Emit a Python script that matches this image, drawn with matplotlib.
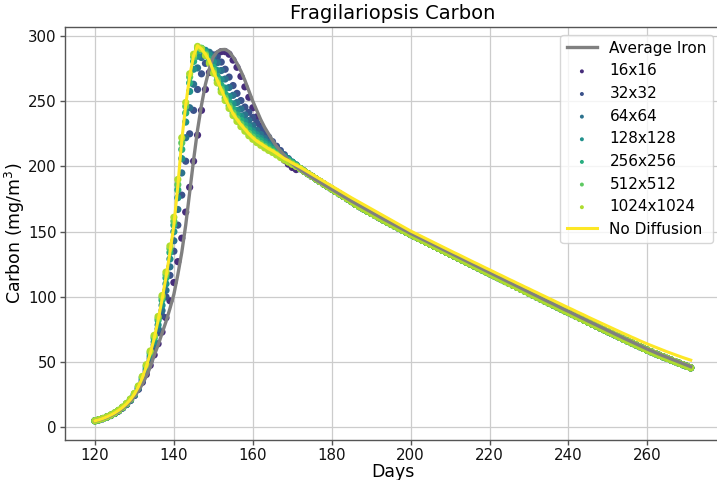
import numpy as np
import matplotlib
matplotlib.use("Agg")
import matplotlib.pyplot as plt

# ---------------- data ----------------
days = np.arange(120, 272)  # daily output, day 120 .. 271

# Days 120..171
iron_head = [5.0, 5.7, 6.6, 7.7, 9.0, 10.5, 12.3, 14.5, 17, 20, 23.5, 28, 33, 39, 46, 55, 63, 72, 81, 91,
             102, 117, 134, 155, 180, 205, 228, 247, 263, 275, 284, 288, 289.5, 289.7, 288, 284, 279, 273, 266, 258,
             250, 243, 236, 230, 225, 220, 215.5, 212, 208.5, 205, 202, 199.5]
nodiff_head = [5.0, 5.8, 6.8, 8.0, 9.4, 11.0, 13.0, 15.3, 18.0, 21.3, 25.5, 31, 38, 46.5, 56.5, 68, 82, 98, 115, 134,
               155, 185, 220, 247, 269, 285, 292.5, 290, 286, 281, 273, 266, 259, 252, 246, 240.5, 236, 232, 228.5, 225,
               222, 219.5, 217.5, 215.5, 213.5, 212, 210, 208, 206, 204.5, 202.5, 201]
r16_head = [5.0, 5.7, 6.6, 7.7, 9.0, 10.6, 12.5, 14.8, 17.5, 20.7, 24.5, 29.2, 34.5, 40.5, 47.5, 55.5, 64, 73, 84, 97,
            111, 127, 145, 165, 184, 204, 224, 243, 259, 272, 281, 286, 288, 288, 286, 281.5, 276, 269, 261, 253,
            245, 238, 231, 225, 220, 215.5, 211.5, 208, 204.8, 201.8, 199.2, 197.6]
r32_head = [5.0, 5.8, 6.7, 7.8, 9.1, 10.7, 12.6, 14.9, 17.5, 20.6, 24.4, 29.3, 35.3, 42.5, 51, 61, 72.5, 85.5, 100, 116.5,
            135, 155, 178, 204, 225, 243, 259, 271, 279, 284, 285.5, 284, 280, 274.5, 268.5, 262, 256, 250.5, 245.5, 241.5,
            237.5, 233.5, 229.5, 226, 222.5, 219, 215.5, 212.2, 209, 206, 203.2, 200.6]
r64_head = [5.0, 5.8, 6.7, 7.9, 9.2, 10.8, 12.7, 15.0, 17.7, 20.9, 24.8, 29.9, 36.2, 43.8, 52.8, 63.3, 75.5, 89.5, 105, 123,
            143, 167, 195, 222, 245, 263, 275.5, 283.5, 287.5, 287.5, 284.5, 279.5, 273.5, 267, 260.5, 254.5, 249, 244, 239.5, 235.2,
            231.2, 227.7, 224.5, 221.5, 218.6, 215.8, 213.1, 210.5, 208, 205.6, 203.2, 201]
r128_head = [5.0, 5.8, 6.7, 7.9, 9.2, 10.8, 12.8, 15.1, 17.8, 21.1, 25.1, 30.4, 37.0, 45.0, 54.5, 65.5, 78.5, 93.5, 110, 129,
             150, 176, 206, 234, 257.5, 274.5, 284.5, 289, 289, 285.5, 280, 273.5, 266.5, 260, 253.5, 248, 243, 238.5, 234.5, 230.7,
             227.3, 224.3, 221.5, 219, 216.6, 214.3, 212, 209.8, 207.6, 205.4, 203.3, 201.2]
r256_head = [5.0, 5.8, 6.7, 7.9, 9.3, 10.9, 12.9, 15.2, 18.0, 21.4, 25.5, 31.0, 38.0, 46.5, 56.5, 68.2, 82, 97.5, 114.5, 134,
             155, 182, 213, 241, 264, 280.5, 289, 290.5, 287.5, 282.5, 276, 269, 262, 255.5, 249.5, 244, 239.5, 235.3, 231.5, 228,
             225, 222.2, 219.6, 217.2, 215, 213, 210.9, 208.8, 206.8, 204.8, 202.8, 200.8]
r512_head = [5.0, 5.8, 6.8, 8.0, 9.4, 11.0, 13.0, 15.4, 18.2, 21.6, 25.8, 31.4, 38.5, 47.3, 57.6, 69.5, 83.5, 99.5, 117, 137,
             158, 186, 218, 246, 268.5, 284, 291, 290.5, 286, 280.5, 273.5, 266, 259, 252.5, 246.5, 241, 236.5, 232.5, 228.8, 225.3,
             222.5, 219.8, 217.5, 215.3, 213.2, 211.4, 209.5, 207.5, 205.6, 203.8, 202, 200.3]
r1024_head = [5.0, 5.8, 6.8, 8.0, 9.4, 11.1, 13.1, 15.5, 18.3, 21.7, 26, 31.7, 39, 48, 58.5, 70.5, 85, 101, 119, 139,
              161, 190, 222, 249, 271, 286, 292, 290, 285, 279, 271.5, 264, 257, 250.5, 244.5, 239, 234.5, 230.5, 227, 223.5,
              220.8, 218.3, 216.2, 214.2, 212.3, 210.7, 208.8, 206.8, 205, 203.3, 201.6, 200]

# Days 172..271
iron_tail = [197.5, 195.5, 193.5, 191.5, 189.7, 187.9, 186.1, 184.3, 182.5, 180.7, 178.9, 177.1, 175.3, 173.5,
             171.8, 170.1, 168.4, 166.7, 165.0, 163.3, 161.6, 159.9, 158.3, 156.7,
             155.1, 153.5, 151.9, 150.3, 148.7, 147.2, 145.7, 144.2, 142.7, 141.2,
             139.7, 138.2, 136.7, 135.2, 133.7, 132.2, 130.7, 129.2, 127.7, 126.2,
             124.7, 123.2, 121.7, 120.2, 118.7, 117.2, 115.7, 114.2, 112.7, 111.2,
             109.7, 108.2, 106.7, 105.2, 103.7, 102.2, 100.7, 99.2, 97.7, 96.2,
             94.8, 93.3, 91.8, 90.3, 88.9, 87.4, 85.9, 84.4, 83.0, 81.5,
             80.0, 78.6, 77.1, 75.7, 74.2, 72.8, 71.3, 69.9, 68.4, 67.0,
             65.6, 64.2, 62.8, 61.4, 60.0, 58.7, 57.4, 56.1, 54.9, 53.7,
             52.5, 51.3, 50.1, 48.9, 47.7, 46.5]
nodiff_tail = [199.4, 197.6, 195.8, 194.0, 192.2, 190.4, 188.6, 186.8, 185.0, 183.2, 181.4, 179.6, 177.8, 176.0,
               174.3, 172.6, 170.9, 169.2, 167.5, 165.8, 164.1, 162.4, 160.7, 159.0,
               157.3, 155.6, 153.9, 152.2, 150.5, 149.0, 147.5, 146.0, 144.5, 143.0,
               141.5, 140.0, 138.5, 137.0, 135.5, 134.0, 132.6, 131.1, 129.6, 128.1,
               126.6, 125.2, 123.7, 122.2, 120.8, 119.3, 117.8, 116.4, 114.9, 113.4,
               112.0, 110.5, 109.1, 107.6, 106.2, 104.7, 103.3, 101.8, 100.4, 98.9,
               97.5, 96.0, 94.6, 93.1, 91.7, 90.3, 88.8, 87.4, 86.0, 84.5,
               83.1, 81.7, 80.3, 78.9, 77.5, 76.1, 74.7, 73.3, 71.9, 70.6,
               69.2, 67.9, 66.5, 65.2, 63.9, 62.7, 61.5, 60.3, 59.1, 57.9,
               56.8, 55.7, 54.6, 53.5, 52.5, 51.5]
grid_tail = [198.4, 196.4, 194.4, 192.4, 190.4, 188.5, 186.5, 184.6, 182.7, 180.8, 178.9, 177.0, 175.1, 173.1,
             171.0, 169.2, 167.5, 165.8, 164.1, 162.4, 160.7, 159.0, 157.4, 155.8,
             154.2, 152.6, 151.0, 149.4, 147.8, 146.3, 144.8, 143.3, 141.8, 140.3,
             138.8, 137.3, 135.8, 134.3, 132.8, 131.3, 129.8, 128.3, 126.8, 125.3,
             123.8, 122.3, 120.8, 119.3, 117.8, 116.3, 114.8, 113.3, 111.8, 110.3,
             108.8, 107.3, 105.8, 104.3, 102.8, 101.3, 99.8, 98.3, 96.8, 95.3,
             93.9, 92.4, 90.9, 89.4, 88.0, 86.5, 85.0, 83.5, 82.1, 80.6,
             79.1, 77.7, 76.2, 74.8, 73.3, 71.9, 70.4, 69.0, 67.5, 66.1,
             64.7, 63.3, 61.9, 60.5, 59.1, 57.8, 56.5, 55.2, 54.0, 52.8,
             51.6, 50.4, 49.2, 48.0, 46.8, 45.6]

resolutions = ["16x16", "32x32", "64x64", "128x128", "256x256", "512x512", "1024x1024"]
res_heads = [r16_head, r32_head, r64_head, r128_head, r256_head, r512_head, r1024_head]

x_ticks = [120, 140, 160, 180, 200, 220, 240, 260]
y_ticks = [0, 50, 100, 150, 200, 250, 300]

# ---------------- plot ----------------
plt.rcParams['font.family'] = ['DejaVu Sans']
fig = plt.figure(figsize=(7.17, 4.8), dpi=100)
ax = fig.add_axes([0.0909, 0.0842, 0.914, 0.8596])

cmap = plt.get_cmap('viridis')
ax.plot(days, iron_head + iron_tail, color='#808080', lw=2.4, label='Average Iron', zorder=4)
for i, (name, head) in enumerate(zip(resolutions, res_heads)):
    ax.scatter(days, head + grid_tail, s=27, color=cmap((i + 1) / 8), label=name,
               edgecolors='none', zorder=3)
ax.plot(days, nodiff_head + nodiff_tail, color=cmap(1.0), lw=2.2, label='No Diffusion', zorder=5)

ax.set_xlim(112.45, 278.55)
ax.set_ylim(-9.4, 306.9)
ax.set_xticks(x_ticks)
ax.set_yticks(y_ticks)
ax.grid(True, color='#cccccc', lw=0.9)
ax.set_axisbelow(True)
for sp in ax.spines.values():
    sp.set_color('#555555')
    sp.set_linewidth(1.0)
ax.tick_params(axis='both', labelsize=10.8, colors='#555555', labelcolor='#111111',
               length=3.5, width=1, direction='out', pad=2.5)

ax.set_title('Fragilariopsis Carbon', fontsize=14)
ax.set_xlabel('Days', fontsize=12.5, labelpad=0)
ax.set_ylabel('Carbon (mg/m$^3$)', fontsize=12.5, labelpad=1)

leg = ax.legend(loc='upper right', fontsize=11, markerscale=0.55, scatterpoints=1,
                handlelength=2.0, framealpha=0.8, edgecolor='#cccccc')

fig.savefig('out.png', dpi=100)
